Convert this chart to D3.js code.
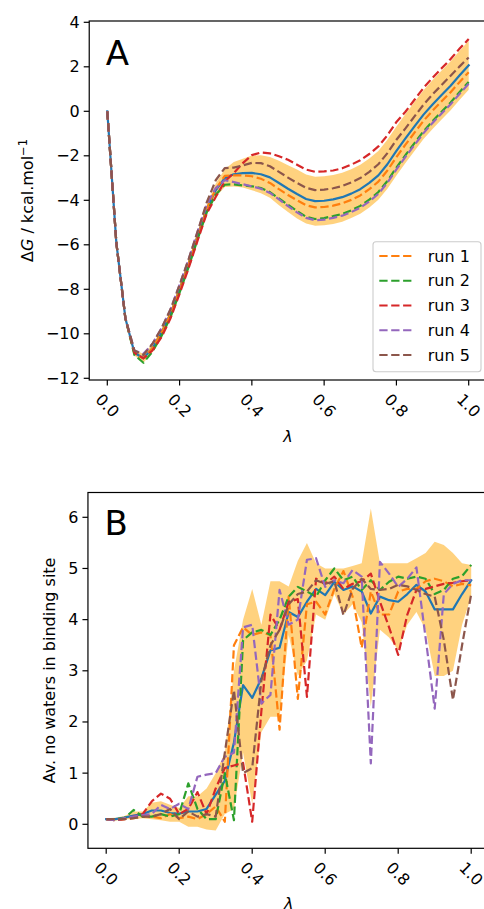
<!DOCTYPE html>
<html><head><meta charset="utf-8">
<script src="https://cdn.jsdelivr.net/npm/d3@7"></script>
<style>body{margin:0;background:#fff} svg{display:block} text{font-family:"DejaVu Sans",sans-serif;fill:#000}</style>
</head><body><svg id="c" width="484" height="909"></svg>
<script>
// ---------- data ----------
const lambdas = [0,0.025,0.05,0.075,0.1,0.125,0.15,0.175,0.2,0.225,0.25,0.275,0.3,0.325,0.35,0.375,0.4,0.425,0.45,0.475,0.5,0.525,0.55,0.575,0.6,0.625,0.65,0.675,0.7,0.725,0.75,0.775,0.8,0.825,0.85,0.875,0.9,0.925,0.95,0.975,1];
const runLabels = ["run 1","run 2","run 3","run 4","run 5"];
const xTicks = [0,0.2,0.4,0.6,0.8,1.0];
const yTicksA = [4,2,0,-2,-4,-6,-8,-10,-12];
const yTicksB = [0,1,2,3,4,5,6];

// Panel A: free energy
const dgMean = [0,-5.9,-9.3,-10.85,-11.1,-10.65,-9.95,-9.1,-8.0,-6.85,-5.6,-4.4,-3.55,-3.0,-2.83,-2.78,-2.77,-2.83,-2.97,-3.22,-3.48,-3.72,-3.94,-4.04,-4.02,-3.96,-3.86,-3.7,-3.5,-3.22,-2.88,-2.38,-1.78,-1.22,-0.68,-0.15,0.31,0.73,1.15,1.62,2.07];
const dgRun1 = [0,-5.9,-9.3,-10.9,-11.1,-10.65,-9.95,-9.1,-8.0,-6.85,-5.6,-4.4,-3.5,-2.9,-2.88,-2.88,-2.92,-3.03,-3.22,-3.5,-3.76,-4.0,-4.22,-4.32,-4.3,-4.24,-4.14,-3.98,-3.78,-3.5,-3.16,-2.66,-2.06,-1.5,-0.96,-0.43,0.03,0.45,0.86,1.32,1.76];
const dgRun2 = [0,-5.9,-9.3,-10.95,-11.3,-10.8,-10.1,-9.25,-8.15,-7.0,-5.75,-4.55,-3.75,-3.3,-3.28,-3.33,-3.37,-3.45,-3.63,-3.92,-4.2,-4.48,-4.74,-4.84,-4.8,-4.71,-4.61,-4.45,-4.25,-3.97,-3.63,-3.13,-2.53,-1.97,-1.43,-0.9,-0.44,-0.02,0.4,0.87,1.32];
const dgRun3 = [0,-5.9,-9.3,-10.85,-11.1,-10.75,-10.15,-9.3,-8.2,-7.05,-5.8,-4.6,-3.85,-3.15,-2.78,-2.33,-1.97,-1.85,-1.89,-2.02,-2.18,-2.4,-2.62,-2.72,-2.7,-2.66,-2.56,-2.4,-2.2,-1.92,-1.58,-1.08,-0.48,-0.02,0.52,1.05,1.51,1.93,2.35,2.82,3.25];
const dgRun4 = [0,-5.9,-9.3,-10.75,-10.9,-10.45,-9.75,-8.9,-7.8,-6.65,-5.4,-4.2,-3.45,-3.1,-3.18,-3.28,-3.37,-3.48,-3.67,-3.96,-4.26,-4.54,-4.79,-4.9,-4.87,-4.79,-4.69,-4.53,-4.33,-4.05,-3.71,-3.21,-2.61,-2.05,-1.51,-0.98,-0.52,-0.1,0.32,0.79,1.24];
const dgRun5 = [0,-5.9,-9.3,-10.75,-10.95,-10.45,-9.75,-8.9,-7.8,-6.65,-5.4,-4.1,-3.1,-2.55,-2.53,-2.43,-2.32,-2.33,-2.47,-2.72,-2.98,-3.22,-3.44,-3.54,-3.52,-3.46,-3.36,-3.2,-3.0,-2.72,-2.38,-1.88,-1.28,-0.77,-0.23,0.3,0.76,1.18,1.6,2.02,2.42];
const dgHigh = [0.02,-5.85,-9.22,-10.73,-10.9,-10.47,-9.8,-8.95,-7.85,-6.7,-5.45,-4.2,-3.25,-2.6,-2.28,-2.13,-1.99,-1.98,-2.05,-2.22,-2.43,-2.62,-2.84,-2.94,-2.92,-2.86,-2.76,-2.6,-2.4,-2.12,-1.78,-1.28,-0.68,-0.12,0.42,0.95,1.41,1.83,2.25,2.72,3.17];
const dgLow = [-0.02,-5.95,-9.38,-10.97,-11.3,-10.83,-10.1,-9.25,-8.15,-7.0,-5.75,-4.6,-3.85,-3.4,-3.38,-3.43,-3.55,-3.68,-3.89,-4.22,-4.53,-4.82,-5.04,-5.14,-5.12,-5.06,-4.96,-4.8,-4.6,-4.32,-3.98,-3.48,-2.88,-2.32,-1.78,-1.25,-0.79,-0.37,0.05,0.52,0.97];

// Panel B: waters in binding site
const watMean = [0.1,0.1,0.13,0.17,0.2,0.27,0.27,0.22,0.21,0.25,0.25,0.3,0.58,0.85,1.6,2.72,2.47,2.85,3.4,3.45,4.15,4.05,4.35,4.6,4.48,4.74,4.58,4.65,4.55,4.12,4.45,4.38,4.35,4.5,4.68,4.55,4.2,4.2,4.2,4.5,4.77];
const watRun1 = [0.1,0.08,0.1,0.12,0.15,0.15,0.12,0.2,0.12,0.15,0.1,0.2,0.35,0.05,3.5,3.85,3.7,3.75,3.7,1.85,4.45,2.45,4.3,4.35,4.1,4.6,4.95,4.45,3.45,4.55,4.1,4.1,4.55,4.6,4.6,4.75,4.8,4.75,4.65,4.7,4.67];
const watRun2 = [0.1,0.1,0.12,0.28,0.15,0.15,0.2,0.15,0.2,0.8,0.3,0.1,0.1,1.0,0.08,3.6,3.75,3.8,3.7,4.0,4.45,4.64,4.55,4.45,4.77,5.0,4.77,4.84,4.58,4.77,4.58,4.74,4.84,4.8,4.84,4.8,4.5,4.58,4.8,4.85,5.07];
const watRun3 = [0.1,0.08,0.1,0.15,0.2,0.45,0.6,0.5,0.2,0.3,0.63,0.2,0.7,1.1,1.15,1.2,0.05,2.2,4.1,3.8,4.35,4.4,2.49,4.8,4.7,4.84,4.6,4.7,4.75,4.9,4.35,3.85,3.31,4.1,4.58,4.6,4.65,4.7,4.72,4.75,4.77];
const watRun4 = [0.1,0.08,0.12,0.15,0.18,0.2,0.38,0.3,0.4,0.3,0.93,0.97,1.0,1.32,1.4,3.85,3.9,2.36,2.53,4.58,3.9,4.0,5.17,5.2,4.64,4.77,4.71,4.97,4.84,1.19,5.13,4.9,4.64,4.8,5.02,3.65,2.26,4.5,4.7,4.77,4.77];
const watRun5 = [0.1,0.1,0.1,0.12,0.15,0.15,0.2,0.3,0.1,0.25,0.15,0.2,0.15,1.4,2.62,1.0,1.1,2.8,3.5,3.8,4.3,4.5,4.55,4.77,4.7,4.75,4.09,4.6,4.8,4.6,4.58,4.6,4.68,4.65,4.58,4.5,4.45,3.6,2.43,3.5,4.5];
const watHigh = [0.12,0.13,0.16,0.25,0.25,0.42,0.45,0.38,0.32,0.55,0.55,0.7,1.0,1.4,3.0,4.0,4.6,3.9,4.75,4.75,4.65,5.15,5.5,5.1,5.0,5.0,5.0,5.05,5.1,6.17,5.1,5.1,5.1,5.1,5.2,5.3,5.52,5.46,5.3,5.1,5.07];
const watLow = [0.08,0.07,0.1,0.1,0.12,0.1,0.08,0.05,0.05,-0.05,-0.05,-0.1,-0.12,0.2,0.3,1.4,0.4,1.8,2.1,2.1,3.7,2.9,3.2,4.1,4.0,4.5,4.1,4.3,3.95,2.3,3.8,3.65,3.4,3.9,4.15,3.8,2.9,2.9,3.0,3.9,4.45];

// ---------- styles ----------
const meanColor = "#1f77b4";
const runColors = ["#ff7f0e","#2ca02c","#d62728","#9467bd","#8c564b"];
const bandColor = "#ffa500";
const FS = 16;

const svg = d3.select("#c");

function panel(cfg){
  const g = svg.append("g");
  const x = d3.scaleLinear().domain([0,1]).range(cfg.xr);
  const y = d3.scaleLinear().domain(cfg.yd).range(cfg.yr);
  const left = x(-0.05), right = x(1.05), top = cfg.top, bottom = cfg.bottom;

  const area = d3.area().x((d,i)=>x(lambdas[i])).y0((d,i)=>y(cfg.low[i])).y1((d,i)=>y(cfg.high[i]));
  g.append("path").attr("d", area(cfg.low)).attr("fill", bandColor).attr("fill-opacity",0.5).attr("stroke","none");

  const line = d3.line().x((d,i)=>x(lambdas[i])).y(d=>y(d));
  g.append("path").attr("d", line(cfg.mean)).attr("fill","none").attr("stroke",meanColor)
    .attr("stroke-width",2.2).attr("stroke-linejoin","round").attr("stroke-linecap","square");
  cfg.runs.forEach((r,j)=>{
    g.append("path").attr("d", line(r)).attr("fill","none").attr("stroke",runColors[j])
      .attr("stroke-width",2.2).attr("stroke-dasharray","8.3,3.6").attr("stroke-linejoin","round");
  });

  g.append("rect").attr("x",left).attr("y",top).attr("width",right-left).attr("height",bottom-top)
    .attr("fill","none").attr("stroke","#000").attr("stroke-width",1.2);

  xTicks.forEach(t=>{
    const px = x(t);
    g.append("line").attr("x1",px).attr("x2",px).attr("y1",bottom).attr("y2",bottom+5.5).attr("stroke","#000").attr("stroke-width",1.2);
    const ty = bottom+25.5;
    g.append("text").attr("x",px).attr("y",ty).attr("text-anchor","middle").attr("dominant-baseline","central")
      .attr("font-size",FS).attr("transform",`rotate(45,${px},${ty})`).text(d3.format(".1f")(t));
  });
  cfg.yTicks.forEach(t=>{
    const py = y(t);
    g.append("line").attr("x1",left-5.5).attr("x2",left).attr("y1",py).attr("y2",py).attr("stroke","#000").attr("stroke-width",1.2);
    g.append("text").attr("x",left-9.5).attr("y",py).attr("text-anchor","end").attr("dominant-baseline","central")
      .attr("font-size",FS).text(String(t).replace("-","\u2212"));
  });
  g.append("text").attr("x",left+16.5).attr("y",cfg.letterY).attr("font-size",34).text(cfg.letter);
  g.append("text").attr("x",(left+right)/2).attr("y",cfg.xlabY).attr("text-anchor","middle")
    .attr("font-size",FS).attr("font-style","italic").text("\u03bb");
  return {g,x,y,left,right,top,bottom};
}

const A = panel({xr:[107.3,468.7], yd:[4,-12], yr:[22.3,378.3], top:21, bottom:380,
  mean:dgMean, runs:[dgRun1,dgRun2,dgRun3,dgRun4,dgRun5], low:dgLow, high:dgHigh,
  yTicks:yTicksA, letter:"A", letterY:65, xlabY:442});
const B = panel({xr:[106.2,471.2], yd:[0,6], yr:[824.3,517.3], top:492.5, bottom:848.3,
  mean:watMean, runs:[watRun1,watRun2,watRun3,watRun4,watRun5], low:watLow, high:watHigh,
  yTicks:yTicksB, letter:"B", letterY:535, xlabY:909});

const ya = svg.append("text").attr("transform",`translate(33,${(A.top+A.bottom)/2}) rotate(-90)`)
  .attr("text-anchor","middle").attr("font-size",FS);
ya.append("tspan").text("\u0394");
ya.append("tspan").attr("font-style","italic").text("G");
ya.append("tspan").text(" / kcal.mol");
ya.append("tspan").attr("dy",-6).attr("font-size",11.5).text("\u22121");

svg.append("text").attr("transform",`translate(55,${(B.top+B.bottom)/2}) rotate(-90)`)
  .attr("text-anchor","middle").attr("font-size",FS).text("Av. no waters in binding site");

const lg = svg.append("g");
lg.append("rect").attr("x",373).attr("y",241.7).attr("width",108).attr("height",130).attr("rx",3)
  .attr("fill","#fff").attr("fill-opacity",0.8).attr("stroke","#cccccc").attr("stroke-width",1.1);
runLabels.forEach((lab,i)=>{
  const yy = 256 + i*24.75;
  lg.append("line").attr("x1",379.3).attr("x2",413.7).attr("y1",yy).attr("y2",yy)
    .attr("stroke",runColors[i]).attr("stroke-width",2.2).attr("stroke-dasharray","8.3,3.6");
  lg.append("text").attr("x",427.7).attr("y",yy).attr("dominant-baseline","central").attr("font-size",FS).text(lab);
});
</script></body></html>
